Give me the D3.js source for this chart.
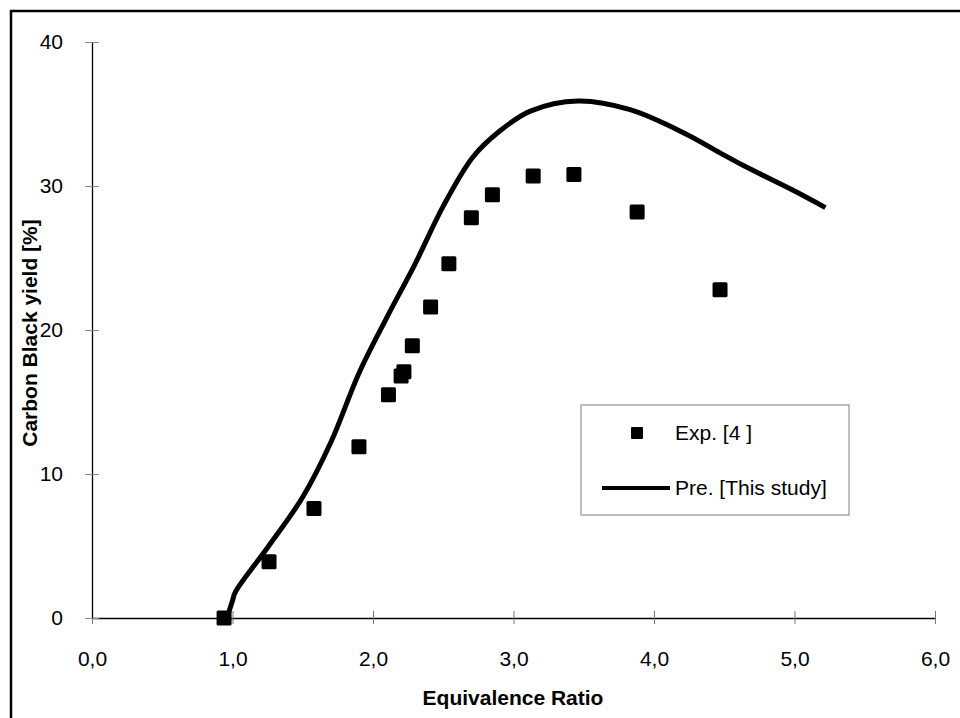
<!DOCTYPE html>
<html>
<head>
<meta charset="utf-8">
<script src="https://cdn.jsdelivr.net/npm/d3@7"></script>
<style>
  body { margin: 0; background: #fff; }
  text { font-family: "Liberation Sans", Arial, sans-serif; }
</style>
</head>
<body>
<svg width="960" height="718"></svg>
<script>
// Experimental points: Exp. [4 ]
const expRatio = [0.94, 1.26, 1.58, 1.90, 2.11, 2.20, 2.22, 2.28, 2.41, 2.54, 2.70, 2.85, 3.14, 3.43, 3.88, 4.47]
const expYield = [0.0, 3.9, 7.6, 11.9, 15.5, 16.8, 17.1, 18.9, 21.6, 24.6, 27.8, 29.4, 30.7, 30.8, 28.2, 22.8]

// Prediction curve: Pre. [This study]
const preRatio = [0.96, 1.00, 1.02, 1.25, 1.50, 1.70, 1.90, 2.10, 2.30, 2.50, 2.71, 2.90, 3.12, 3.46, 3.83, 4.23, 4.47, 4.64, 4.99, 5.22]
const preYield = [0.0, 1.2, 1.8, 4.9, 8.4, 12.2, 17.0, 20.9, 24.6, 28.6, 32.0, 33.8, 35.2, 35.9, 35.3, 33.6, 32.3, 31.4, 29.7, 28.5]

const xTicks = [0, 1, 2, 3, 4, 5, 6]
const yTicks = [0, 10, 20, 30, 40]

const svg = d3.select('svg')

// outer frame
svg.append('rect')
  .attr('x', 11).attr('y', 11)
  .attr('width', 980).attr('height', 740)
  .attr('fill', 'none').attr('stroke', '#000').attr('stroke-width', 2.5)

let xScale = d3.scaleLinear().domain([0, 6]).range([92, 935])
let yScale = d3.scaleLinear().domain([0, 40]).range([618, 42])

// x-axis
let xAxis = d3.axisBottom(xScale)
  .tickValues(xTicks)
  .tickSize(0)
  .tickPadding(33)
  .tickFormat((d) => d3.format('.1f')(d).replace('.', ','))

let xg = svg.append('g').attr('transform', 'translate(0,618)').call(xAxis)
xg.select('.domain').attr('stroke', '#000').attr('stroke-width', 1.3)
xg.selectAll('.tick line').attr('y1', -7).attr('y2', 6).attr('stroke', '#777')
xg.selectAll('.tick text').attr('font-size', 21).attr('fill', '#000')
  .attr('font-family', '"Liberation Sans", Arial, sans-serif')

// y-axis
let yAxis = d3.axisLeft(yScale)
  .tickValues(yTicks)
  .tickSize(0)
  .tickPadding(29)

let yg = svg.append('g').attr('transform', 'translate(92,0)').call(yAxis)
yg.select('.domain').attr('stroke', '#000').attr('stroke-width', 1.3)
yg.selectAll('.tick line').attr('x1', -7).attr('x2', 7).attr('stroke', '#888')
yg.selectAll('.tick text').attr('font-size', 21).attr('fill', '#000')
  .attr('font-family', '"Liberation Sans", Arial, sans-serif')

// prediction line
let line = d3.line()
  .x((d, i) => xScale(preRatio[i]))
  .y((d, i) => yScale(preYield[i]))
  .curve(d3.curveCatmullRom.alpha(0.5))

svg.append('path')
  .datum(preYield)
  .attr('d', line)
  .attr('fill', 'none')
  .attr('stroke', '#000')
  .attr('stroke-width', 5)
  .attr('stroke-linejoin', 'round')

// experimental squares
const sq = 15
svg.selectAll('rect.exp')
  .data(expYield)
  .enter()
  .append('rect')
  .attr('class', 'exp')
  .attr('x', (d, i) => xScale(expRatio[i]) - sq / 2)
  .attr('y', (d) => yScale(d) - sq / 2)
  .attr('width', sq).attr('height', sq)
  .attr('rx', 1.5)
  .attr('fill', '#000')

// axis titles
svg.append('text')
  .attr('x', 513).attr('y', 705)
  .attr('text-anchor', 'middle')
  .attr('font-size', 21).attr('font-weight', 'bold')
  .text('Equivalence Ratio')

svg.append('text')
  .attr('transform', 'translate(37,333) rotate(-90)')
  .attr('text-anchor', 'middle')
  .attr('font-size', 21).attr('font-weight', 'bold')
  .text('Carbon Black yield [%]')

// legend
let lg = svg.append('g')
lg.append('rect')
  .attr('x', 581).attr('y', 405).attr('width', 268).attr('height', 110)
  .attr('fill', '#fff').attr('stroke', '#808080').attr('stroke-width', 1)
lg.append('rect')
  .attr('x', 631).attr('y', 427).attr('width', 12).attr('height', 12)
  .attr('rx', 1).attr('fill', '#000')
lg.append('text')
  .attr('x', 675).attr('y', 433).attr('dy', '0.35em')
  .attr('font-size', 21).text('Exp. [4 ]')
lg.append('line')
  .attr('x1', 602).attr('x2', 670).attr('y1', 488).attr('y2', 488)
  .attr('stroke', '#000').attr('stroke-width', 4)
lg.append('text')
  .attr('x', 675).attr('y', 488).attr('dy', '0.35em')
  .attr('font-size', 21).text('Pre. [This study]')
</script>
</body>
</html>
